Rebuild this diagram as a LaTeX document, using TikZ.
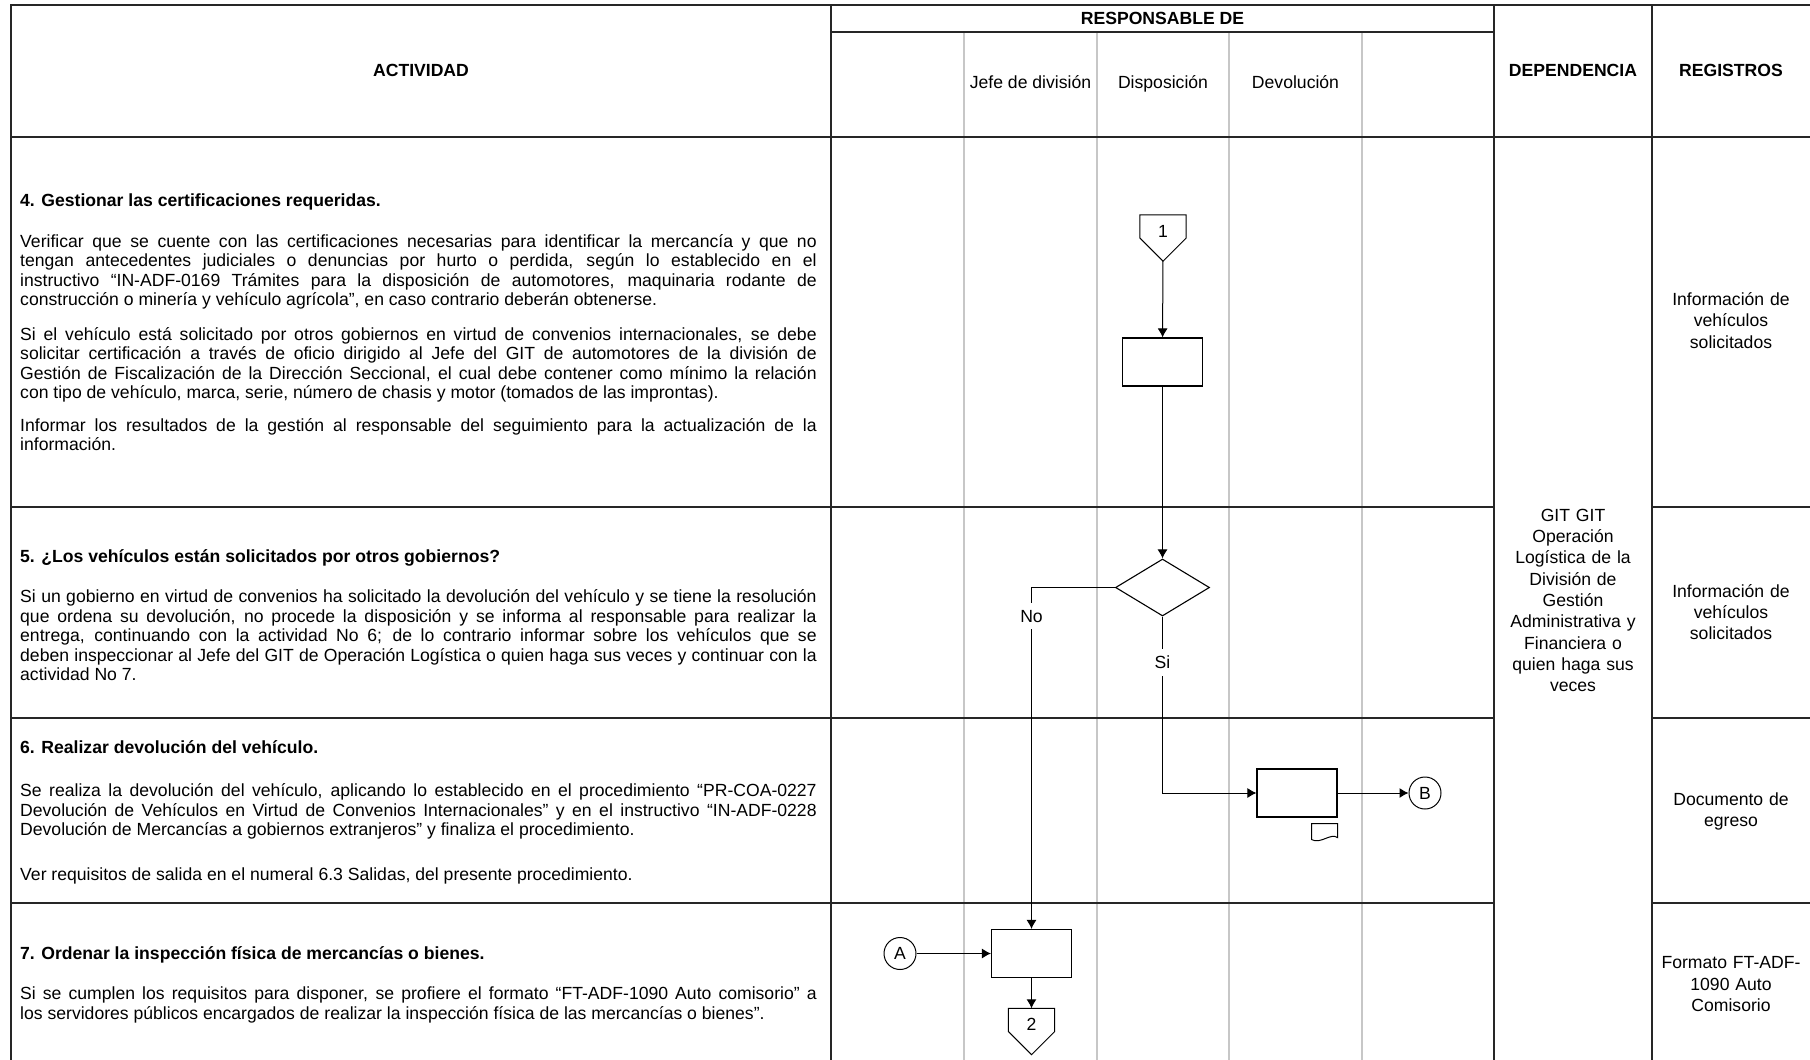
\documentclass[tikz,border=0pt]{standalone}
\usepackage{fontspec}
\setmainfont{Liberation Sans}
\usetikzlibrary{arrows.meta}
\usetikzlibrary{calc}
\usetikzlibrary{shapes.geometric}
\hyphenpenalty=10000
\exhyphenpenalty=10000

\begin{document}
\begin{tikzpicture}[x=1pt, y=-1pt, font=\fontsize{17.6}{21.3}\selectfont,
        grid/.style={line width=1.6pt, color=black!85},
        lane/.style={line width=1.5pt, color=black!22},
        proc/.style={draw, line width=1.1pt, minimum width=80pt, minimum height=48pt, inner sep=0pt},
        decision/.style={draw, diamond, aspect=1.65, minimum width=94pt, minimum height=57pt, inner sep=0pt, line width=1.1pt},
        conn/.style={draw, circle, minimum size=32pt, inner sep=0pt, line width=1pt},
        offpage/.style={minimum width=46pt, minimum height=46pt, inner sep=0pt, text height=12.6pt, text depth=14pt},
        flow/.style={-{Latex[length=9pt, width=10pt]}, line width=1pt},
        lbl/.style={fill=white, inner xsep=1pt, inner ysep=7pt},
        act/.style={anchor=base west, text width=796.5pt, align=justify, inner sep=0pt, font=\fontsize{17.6}{19.5}\selectfont},
        head/.style={anchor=base west, inner sep=0pt},
        cell/.style={anchor=base, text width=150pt, align=center, inner sep=0pt}]
    \useasboundingbox (0,0) rectangle (1810,1060);
    \foreach \x in {964,1097,1229,1362}
        \draw[lane] (\x,32) -- (\x,1060);
    \draw[grid] (11,1060) -- (11,5) -- (1810,5);
    \foreach \x in {831,1494,1652}
        \draw[grid] (\x,5) -- (\x,1060);
    \draw[grid] (11,137) -- (1810,137);
    \draw[grid] (831,32) -- (1494,32);
    \foreach \y in {507,718,903} {
        \draw[grid] (11,\y) -- (1494,\y);
        \draw[grid] (1652,\y) -- (1810,\y);
    }

    \node[anchor=base] (hact) at (421,76) {\textbf{ACTIVIDAD}};
    \node[anchor=base] (hres) at (1162.5,24) {\textbf{RESPONSABLE DE}};
    \node[anchor=base] (hdep) at (1573,76) {\textbf{DEPENDENCIA}};
    \node[anchor=base] (hreg) at (1731,76) {\textbf{REGISTROS}};
    \node[anchor=base] (ljefe) at (1030.5,88.5) {Jefe de división};
    \node[anchor=base] (ldisp) at (1163,88.5) {Disposición};
    \node[anchor=base] (ldev) at (1295.5,88.5) {Devolución};

    \node[head] (h4) at (20,206.5) {\textbf{4. Gestionar las certificaciones requeridas.}};
    \node[act] (t4a) at (20,247) {Verificar que se cuente con las certificaciones necesarias para identificar la mercancía y que no\linebreak tengan antecedentes judiciales o denuncias por hurto o perdida, según lo establecido en el\linebreak instructivo “IN-ADF-0169 Trámites para la disposición de automotores, maquinaria rodante de\linebreak construcción o minería y vehículo agrícola”, en caso contrario deberán obtenerse.};
    \node[act] (t4b) at (20,340.3) {Si el vehículo está solicitado por otros gobiernos en virtud de convenios internacionales, se debe\linebreak solicitar certificación a través de oficio dirigido al Jefe del GIT de automotores de la división de\linebreak Gestión de Fiscalización de la Dirección Seccional, el cual debe contener como mínimo la relación\linebreak con tipo de vehículo, marca, serie, número de chasis y motor (tomados de las improntas).};
    \node[act] (t4c) at (20,431.3) {Informar los resultados de la gestión al responsable del seguimiento para la actualización de la\linebreak información.};
    \node[head] (h5) at (20,562) {\textbf{5. ¿Los vehículos están solicitados por otros gobiernos?}};
    \node[act] (t5) at (20,602.8) {Si un gobierno en virtud de convenios ha solicitado la devolución del vehículo y se tiene la resolución\linebreak que ordena su devolución, no procede la disposición y se informa al responsable para realizar la\linebreak entrega, continuando con la actividad No 6; de lo contrario informar sobre los vehículos que se\linebreak deben inspeccionar al Jefe del GIT de Operación Logística o quien haga sus veces y continuar con la\linebreak actividad No 7.};
    \node[head] (h6) at (20,753) {\textbf{6. Realizar devolución del vehículo.}};
    \node[act] (t6a) at (20,796.5) {Se realiza la devolución del vehículo, aplicando lo establecido en el procedimiento “PR-COA-0227\linebreak Devolución de Vehículos en Virtud de Convenios Internacionales” y en el instructivo “IN-ADF-0228\linebreak Devolución de Mercancías a gobiernos extranjeros” y finaliza el procedimiento.};
    \node[act] (t6b) at (20,880.5) {Ver requisitos de salida en el numeral 6.3 Salidas, del presente procedimiento.};
    \node[head] (h7) at (20,959) {\textbf{7. Ordenar la inspección física de mercancías o bienes.}};
    \node[act] (t7) at (20,999.5) {Si se cumplen los requisitos para disponer, se profiere el formato “FT-ADF-1090 Auto comisorio” a\linebreak los servidores públicos encargados de realizar la inspección física de las mercancías o bienes”.};

    \node[cell] (dep) at (1573,521.3) {GIT GIT\\Operación\\Logística de la\\División de\\Gestión\\Administrativa y\\Financiera o\\quien haga sus\\veces};
    \node[cell] (r4) at (1731,305.5) {Información de\\vehículos\\solicitados};
    \node[cell] (r5) at (1731,597.2) {Información de\\vehículos\\solicitados};
    \node[cell] (r6) at (1731,805.5) {Documento de\\egreso};
    \node[cell] (r7) at (1731,968.7) {Formato FT-ADF-\\1090 Auto\\Comisorio};

    \node[offpage] (c1) at (1163,238) {1};
    \node[proc] (p4) at (1162.5,362) {};
    \node[decision] (d5) at (1162.5,587.5) {};
    \node[proc] (p6) at (1297,793) {};
    \node[conn] (cB) at (1425,793) {B};
    \node[conn] (cA) at (900,953.5) {A};
    \node[proc] (p7) at (1031.5,953.5) {};
    \node[offpage] (c2) at (1031.5,1031.5) {2};
    \foreach \n in {c1,c2}
        \draw[line width=1pt] (\n.north west) -- (\n.north east) -- (\n.east) -- (\n.south) -- (\n.west) -- cycle;
    \draw[line width=1pt] ($(p6.south east)+(-26,6)$) -- ($(p6.south east)+(0,6)$) -- ($(p6.south east)+(0,20)$)
        .. controls ($(p6.south east)+(-7,15)$) and ($(p6.south east)+(-17,27)$) .. ($(p6.south east)+(-26,22)$) -- cycle;

    \draw[flow] (c1) -- (p4);
    \draw[flow] (p4) -- (d5);
    \draw[flow] (d5.west) -| node[lbl, pos=0.542] (no) {No} (p7.north);
    \draw[flow] (d5.south) |- node[lbl, pos=0.13] (si) {Si} (p6.west);
    \draw[flow] (p6) -- (cB);
    \draw[flow] (cA) -- (p7);
    \draw[flow] (p7) -- (c2);
\end{tikzpicture}
\end{document}
